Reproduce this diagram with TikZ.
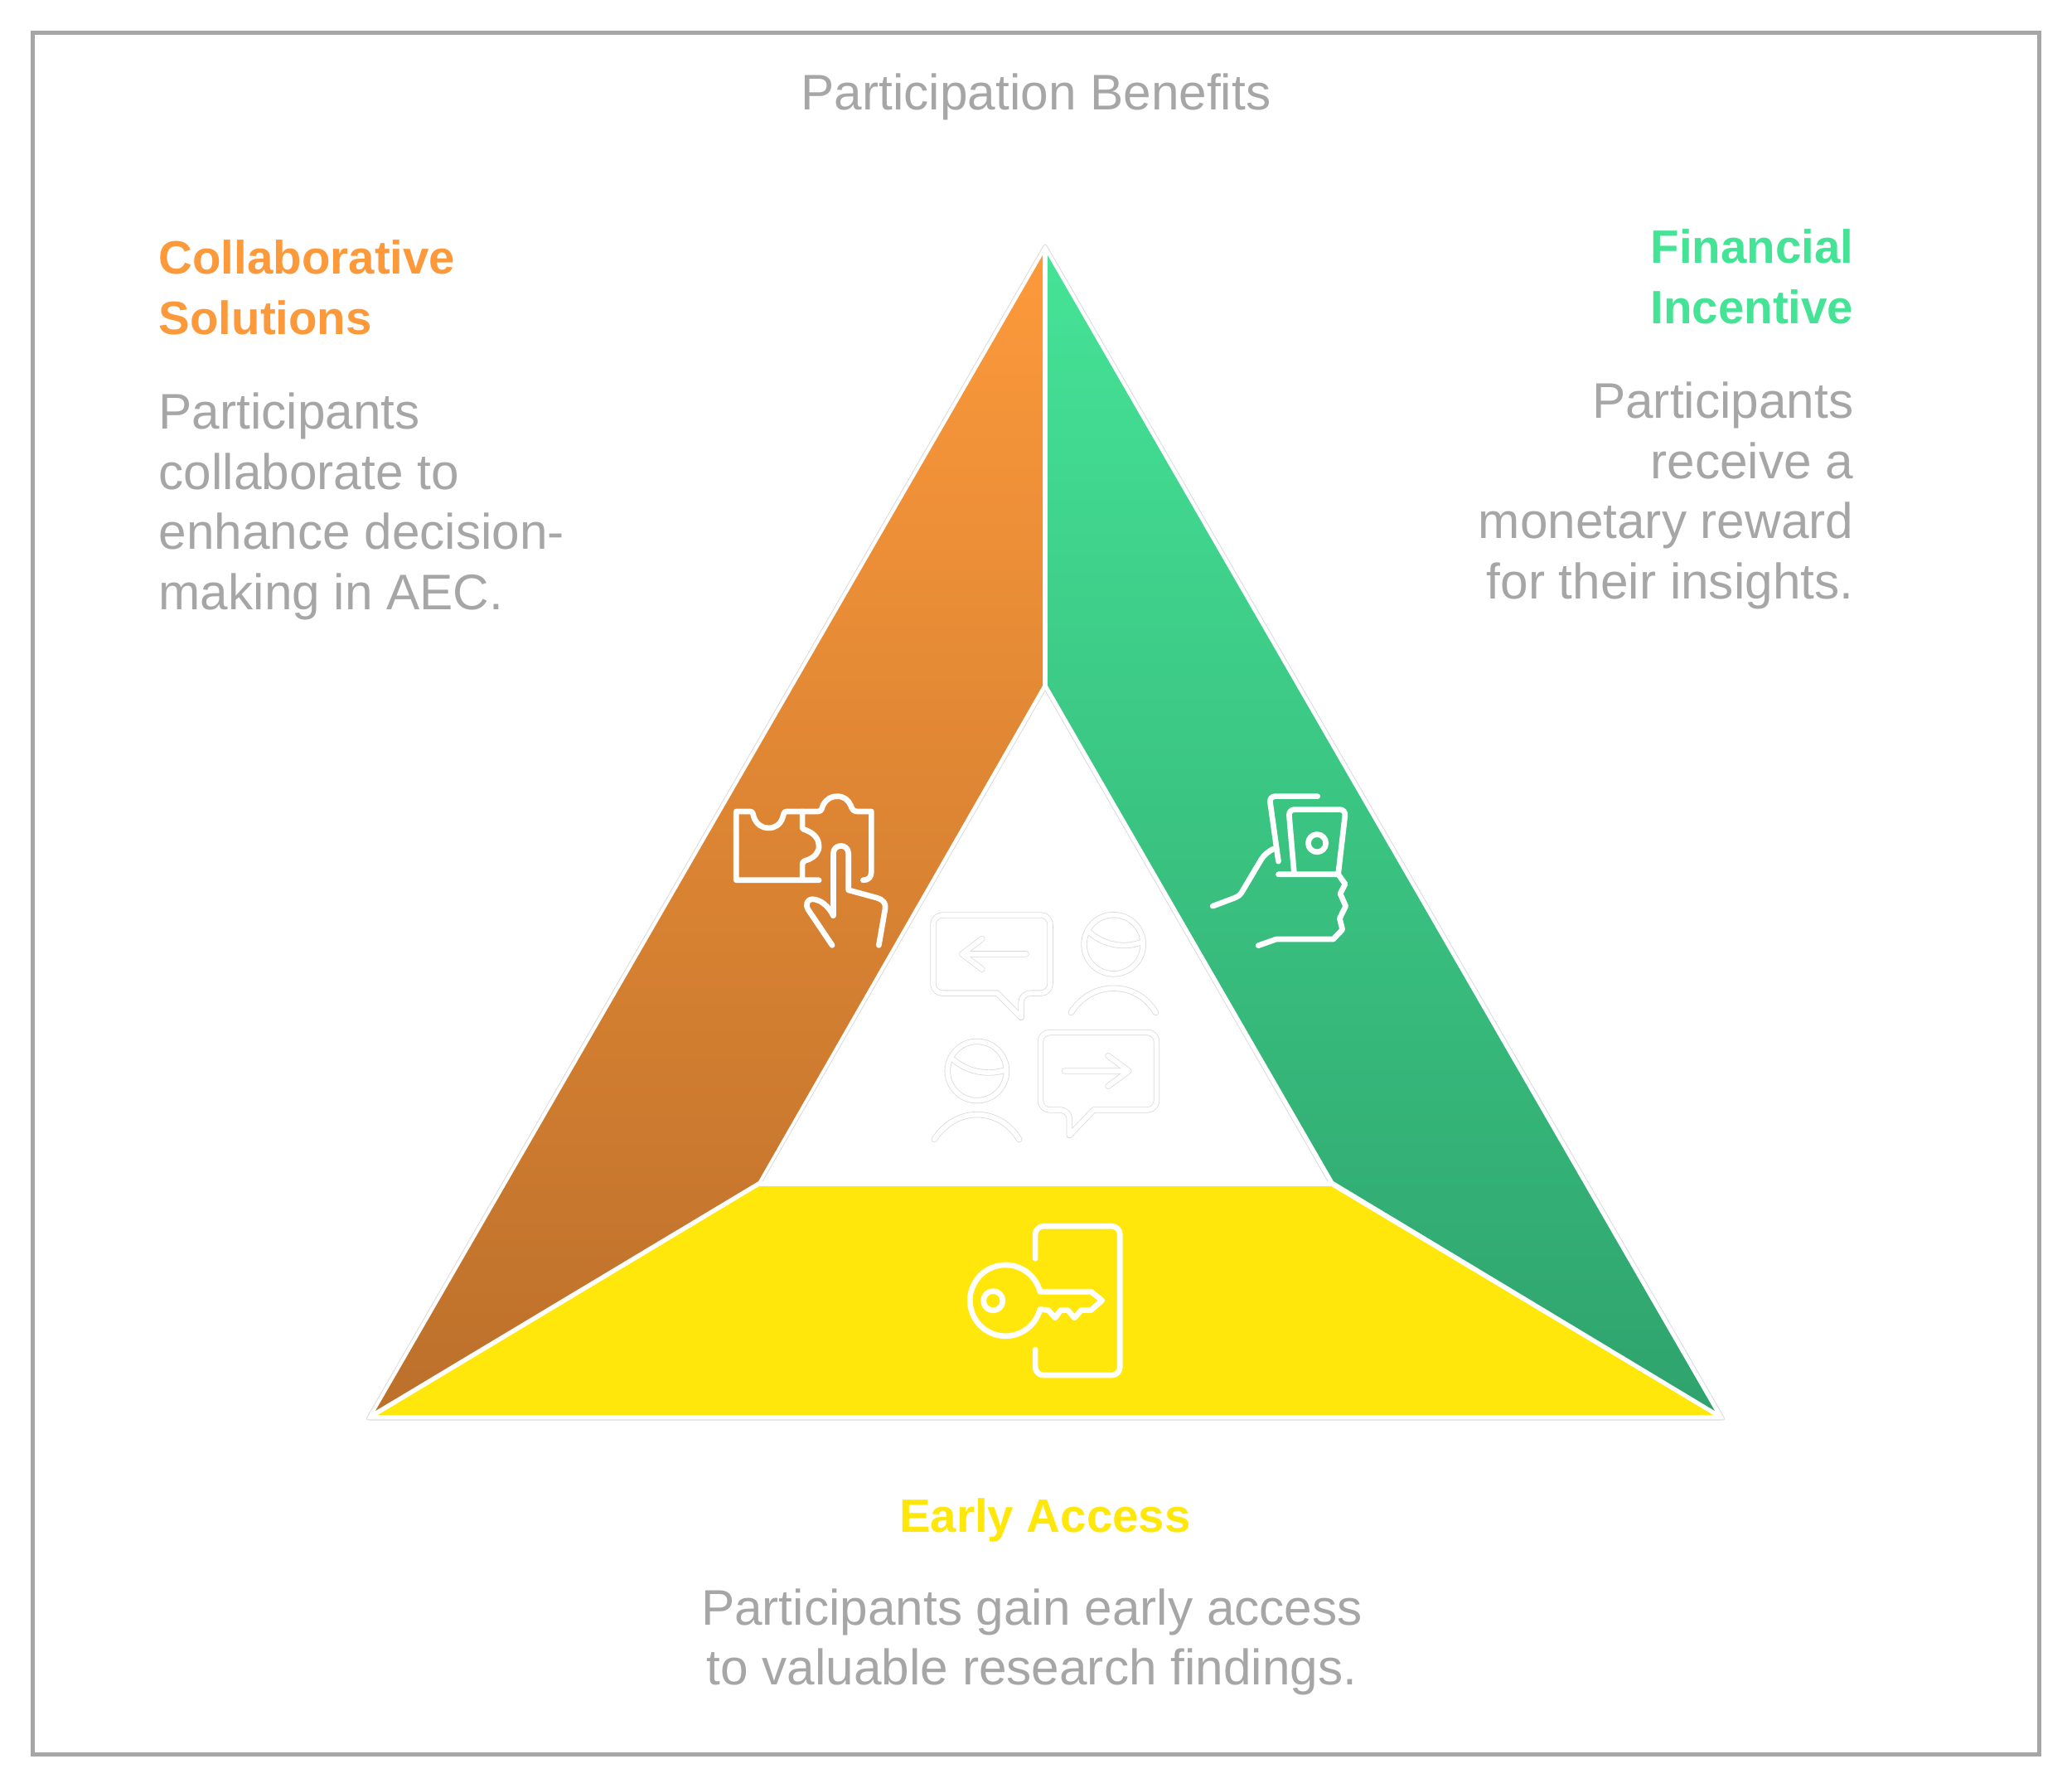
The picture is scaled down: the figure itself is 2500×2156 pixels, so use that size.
\documentclass[tikz,border=0pt]{standalone}
\usepackage{fontspec}
\setmainfont{Liberation Sans}
\usetikzlibrary{positioning}
\definecolor{framegrey}{HTML}{A6A6A6}
\definecolor{hairgrey}{HTML}{D8D8D8}
\definecolor{orangetop}{HTML}{FC993B}
\definecolor{orangelow}{HTML}{BC702B}
\definecolor{greentop}{HTML}{45E396}
\definecolor{greenlow}{HTML}{2FA36D}
\definecolor{keyyellow}{HTML}{FFE70B}

\begin{document}
\begin{tikzpicture}[
        x=.01cm, y=-.01cm,
        head/.style={inner sep=0pt, font=\fontsize{16.05}{20.63}\selectfont\bfseries},
        body/.style={inner sep=0pt, text=framegrey, font=\fontsize{17.15}{20.63}\selectfont},
        icon/.style={draw=white, line width=1.9pt, line cap=round, line join=round},
        ghost/.style={draw=hairgrey, line width=.22pt, double=white, double distance=1.65pt, line cap=round, line join=round},
        iconscale/.style={shift={#1}, x=.003333cm, y=-.003333cm}
    ]
        \useasboundingbox (0,0) rectangle (2500,2156);
        \draw[framegrey, line width=1.6pt, line join=miter] (39.5,39.5) rectangle (2460.5,2116.5);

        \draw[hairgrey, line width=.22pt, rounded corners=1pt] (1261,293) -- (2082,1713) -- (441,1713) -- cycle;
        \draw[hairgrey!60, line width=.5pt] (445,1713) -- (2078,1713);
        \draw[hairgrey, line width=.22pt] (920,1425) -- (1261,833) -- (1602,1425);

        \shade[top color=orangetop, bottom color=orangelow] (1258,308) -- (1258,827) -- (915,1425) -- (453,1702) -- cycle;
        \shade[top color=greentop, bottom color=greenlow] (1264,308) -- (1264,827) -- (1609,1425) -- (2069,1702) -- cycle;
        \fill[keyyellow] (916,1431) -- (1606,1431) -- (2067,1707) -- (456,1707) -- cycle;

        \node[body, anchor=north] (title) at (1250,88) {Participation Benefits};

        \node[head, text=orangetop, align=left, anchor=north west] (collabhead) at (191,289) {Collaborative\\Solutions};
        \node[body, align=left, below=.69cm of collabhead.south west, anchor=north west] (collabtext) {Participants\\collaborate to\\enhance decision-\\making in AEC.};

        \node[head, text=greentop, align=right, anchor=north east] (finhead) at (2237,276) {Financial\\Incentive};
        \node[body, align=right, below=.69cm of finhead.south east, anchor=north east] (fintext) {Participants\\receive a\\monetary reward\\for their insights.};

        \node[head, text=keyyellow, anchor=north] (earlyhead) at (1261,1807) {Early Access};
        \node[body, align=center, anchor=north] (earlytext) at (1245,1916) {Participants gain early access\\to valuable research findings.};

        \begin{scope}[iconscale={(850,930)}]
            \draw[icon] (415,396) -- (115,396) -- (115,147) -- (165,147) .. controls (178,147) and (175,160) .. (180,170) .. controls (190,195) and (210,207) .. (232,207) .. controls (255,207) and (275,195) .. (283,170) .. controls (288,160) and (285,147) .. (298,147) -- (412,147) .. controls (428,147) and (425,130) .. (432,120) .. controls (445,100) and (460,92) .. (482,92) .. controls (505,92) and (522,105) .. (530,125) .. controls (536,140) and (540,147) .. (555,147) -- (605,147) -- (605,365) .. controls (605,385) and (595,396) .. (575,396);
            \draw[icon] (355,147) -- (355,205) .. controls (355,213) and (365,212) .. (375,218) .. controls (400,228) and (415,250) .. (415,272) .. controls (415,295) and (400,312) .. (375,322) .. controls (365,326) and (355,325) .. (355,340) -- (355,396);
            \draw[icon] (632,632) -- (655,500) .. controls (660,480) and (645,465) .. (625,460) -- (522,432) -- (522,300) .. controls (522,262) and (467,262) .. (467,300) -- (467,525) .. controls (450,490) and (420,465) .. (390,465) .. controls (372,465) and (365,485) .. (376,503) -- (463,632);
        \end{scope}

        \begin{scope}[iconscale={(1430,930)}]
            \draw[icon, rounded corners=2pt] (480,92) -- (305,92) -- (338,328);
            \draw[icon, rounded corners=2pt] (395,372) -- (375,140) -- (582,140) -- (555,372);
            \draw[icon] (478,262) circle[radius=32];
            \draw[icon] (338,375) -- (555,375) -- (580,410) -- (562,445) -- (582,490) -- (560,535) -- (570,575) -- (537,610) -- (330,610) -- (265,633);
            \draw[icon] (322,282) .. controls (300,292) and (285,305) .. (275,322) -- (205,440) .. controls (197,452) and (190,456) .. (180,460) -- (100,490);
        \end{scope}

        \begin{scope}[iconscale={(1130,1450)}]
            \draw[icon, rounded corners=2.8pt] (358,205) -- (358,88) -- (665,88) -- (665,628) -- (358,628) -- (358,535);
            \draw[icon] (375,325) arc[start angle=-14.4, end angle=-345.6, radius=129] -- (405,392) -- (430,420) -- (450,392) -- (475,392) -- (500,420) -- (525,392) -- (560,392) -- (600,357) -- (560,325) -- cycle;
            \draw[icon] (205,358) circle[radius=35];
        \end{scope}

        \begin{scope}[iconscale={(1100,1080)}]
            \draw[ghost, rounded corners=3.2pt] (310,355) -- (78,355) -- (78,72) -- (502,72) -- (502,355) -- (397,355) [sharp corners] -- (397,443) -- cycle;
            \draw[ghost] (415,213) -- (183,213) (255,158) -- (183,213) -- (255,268);
            \draw[ghost] (732,178) circle[radius=107] (645,135) .. controls (690,175) and (760,195) .. (828,172);
            \draw[ghost] (578,425) .. controls (620,360) and (680,337) .. (732,337) .. controls (785,337) and (845,360) .. (885,425);
            \draw[ghost, rounded corners=3.2pt] (660,778) -- (888,778) -- (888,497) -- (467,497) -- (467,778) -- (572,778) [sharp corners] -- (572,870) -- cycle;
            \draw[ghost] (555,637) -- (787,637) (712,582) -- (787,637) -- (712,692);
            \draw[ghost] (237,637) circle[radius=107] (150,595) .. controls (195,635) and (265,655) .. (335,635);
            \draw[ghost] (82,885) .. controls (125,820) and (185,795) .. (237,795) .. controls (290,795) and (350,820) .. (390,885);
        \end{scope}
    \end{tikzpicture}
\end{document}
